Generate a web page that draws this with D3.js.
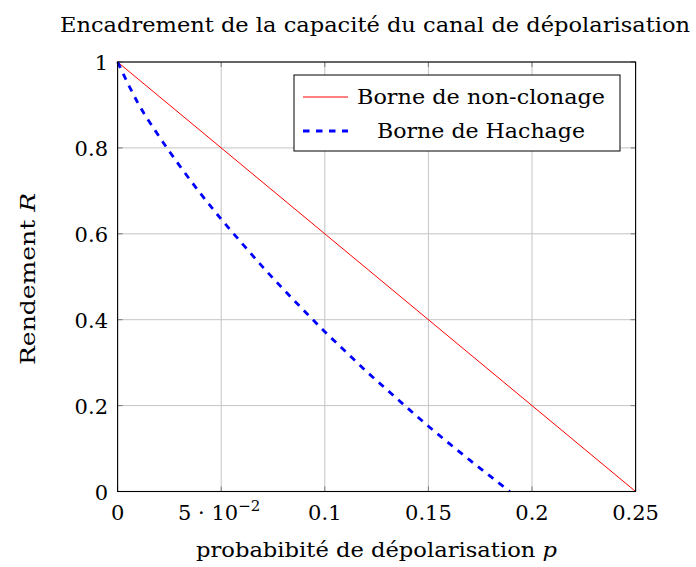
<!DOCTYPE html>
<html>
<head>
<meta charset="utf-8">
<script src="https://cdn.jsdelivr.net/npm/d3@7"></script>
<style>
  body { margin: 0; background: #fff; }
  text { font-family: "DejaVu Serif", "Liberation Serif", serif; fill: #000; }
</style>
</head>
<body>
<div id="chart"></div>
<script>
var w = 696;
var h = 567;

// data
var pNonClonage = [0, 0.25];
var rNonClonage = [1, 0];
var pHachage = [0, 0.01, 0.02, 0.03, 0.04, 0.05, 0.06, 0.07, 0.08, 0.09, 0.10,
                0.11, 0.12, 0.13, 0.14, 0.15, 0.16, 0.17, 0.18, 0.1893];
var rHachage = [1, 0.903, 0.827, 0.758, 0.694, 0.634, 0.578, 0.523, 0.471, 0.421, 0.372,
                0.326, 0.280, 0.237, 0.194, 0.152, 0.112, 0.073, 0.035, 0];
var xTicks = [0, 0.05, 0.1, 0.15, 0.2, 0.25];
var xTickLabels = ["0", "5 · 10", "0.1", "0.15", "0.2", "0.25"];
var yTicks = [0, 0.2, 0.4, 0.6, 0.8, 1];
var yTickLabels = ["0", "0.2", "0.4", "0.6", "0.8", "1"];
var seriesNames = ["Borne de non-clonage", "Borne de Hachage"];

var mLeft = 117.6, mRight = 635.6, mTop = 62, mBottom = 491.5;
var fs = "21px";

var svg = d3.select("#chart")
    .append("svg")
    .attr("width", w)
    .attr("height", h);

var x = d3.scaleLinear().domain([0, 0.25]).range([mLeft, mRight]);
var y = d3.scaleLinear().domain([0, 1]).range([mBottom, mTop]);

// grid
svg.append("g")
    .selectAll("line")
    .data(xTicks)
    .enter()
    .append("line")
    .attr("x1", function(d) { return x(d); })
    .attr("x2", function(d) { return x(d); })
    .attr("y1", mTop)
    .attr("y2", mBottom)
    .attr("stroke", "#c4c4c4")
    .attr("stroke-width", 1);

svg.append("g")
    .selectAll("line")
    .data(yTicks)
    .enter()
    .append("line")
    .attr("x1", mLeft)
    .attr("x2", mRight)
    .attr("y1", function(d) { return y(d); })
    .attr("y2", function(d) { return y(d); })
    .attr("stroke", "#c4c4c4")
    .attr("stroke-width", 1);

// tick marks, inside, on all four sides
var tickLen = 5;
var ticks = svg.append("g").attr("stroke", "#7a7a7a").attr("stroke-width", 1);
xTicks.forEach(function(d) {
    ticks.append("line").attr("x1", x(d)).attr("x2", x(d)).attr("y1", mBottom).attr("y2", mBottom - tickLen);
    ticks.append("line").attr("x1", x(d)).attr("x2", x(d)).attr("y1", mTop).attr("y2", mTop + tickLen);
});
yTicks.forEach(function(d) {
    ticks.append("line").attr("x1", mLeft).attr("x2", mLeft + tickLen).attr("y1", y(d)).attr("y2", y(d));
    ticks.append("line").attr("x1", mRight).attr("x2", mRight - tickLen).attr("y1", y(d)).attr("y2", y(d));
});

// series
var line = d3.line()
    .x(function(d) { return x(d[0]); })
    .y(function(d) { return y(d[1]); });

svg.append("path")
    .datum(d3.zip(pNonClonage, rNonClonage))
    .attr("d", line)
    .attr("fill", "none")
    .attr("stroke", "#ff0000")
    .attr("stroke-width", 1);

svg.append("path")
    .datum(d3.zip(pHachage, rHachage))
    .attr("d", line.curve(d3.curveMonotoneX))
    .attr("fill", "none")
    .attr("stroke", "#0000ff")
    .attr("stroke-width", 2.8)
    .attr("stroke-dasharray", "6.5,6.5");

// frame
svg.append("rect")
    .attr("x", mLeft)
    .attr("y", mTop)
    .attr("width", mRight - mLeft)
    .attr("height", mBottom - mTop)
    .attr("fill", "none")
    .attr("stroke", "#000")
    .attr("stroke-width", 1.1);

// tick labels
svg.append("g")
    .selectAll("text")
    .data(xTicks)
    .enter()
    .append("text")
    .attr("x", function(d) { return x(d); })
    .attr("y", 520)
    .attr("text-anchor", "middle")
    .style("font-size", fs)
    .each(function(d, i) {
        var t = d3.select(this);
        t.text(xTickLabels[i]);
        if (i === 1) {
            t.attr("dx", -2);
            t.append("tspan").attr("dy", -9).style("font-size", "15px").text("−2");
        }
    });

svg.append("g")
    .selectAll("text")
    .data(yTicks)
    .enter()
    .append("text")
    .attr("x", 108)
    .attr("y", function(d) { return y(d) + 8; })
    .attr("text-anchor", "end")
    .style("font-size", fs)
    .text(function(d, i) { return yTickLabels[i]; });

// title & axis labels
svg.append("text")
    .attr("x", 60)
    .attr("y", 32)
    .attr("textLength", 630)
    .attr("lengthAdjust", "spacingAndGlyphs")
    .style("font-size", fs)
    .text("Encadrement de la capacité du canal de dépolarisation");

svg.append("text")
    .attr("x", 196)
    .attr("y", 557)
    .attr("textLength", 361)
    .attr("lengthAdjust", "spacingAndGlyphs")
    .style("font-size", fs)
    .html("probabibité de dépolarisation <tspan font-style='italic'>p</tspan>");

svg.append("text")
    .attr("transform", "translate(35,365) rotate(-90)")
    .attr("textLength", 172)
    .attr("lengthAdjust", "spacingAndGlyphs")
    .style("font-size", fs)
    .html("Rendement <tspan font-style='italic'>R</tspan>");

// legend
var lg = svg.append("g");
lg.append("rect")
    .attr("x", 294)
    .attr("y", 75)
    .attr("width", 326)
    .attr("height", 76)
    .attr("fill", "#fff")
    .attr("stroke", "#000")
    .attr("stroke-width", 1);

var legendStyles = [
    { color: "#ff0000", width: 1, dash: null, x0: 357, len: 248 },
    { color: "#0000ff", width: 2.8, dash: "6.5,6.5", x0: 377, len: 208 }
];
seriesNames.forEach(function(name, i) {
    var ly = 97 + i * 34;
    var st = legendStyles[i];
    lg.append("line")
        .attr("x1", 303)
        .attr("x2", 348)
        .attr("y1", ly)
        .attr("y2", ly)
        .attr("stroke", st.color)
        .attr("stroke-width", st.width)
        .attr("stroke-dasharray", st.dash);
    lg.append("text")
        .attr("x", st.x0)
        .attr("y", ly + 7)
        .attr("textLength", st.len)
        .attr("lengthAdjust", "spacingAndGlyphs")
        .style("font-size", fs)
        .text(name);
});
</script>
</body>
</html>
